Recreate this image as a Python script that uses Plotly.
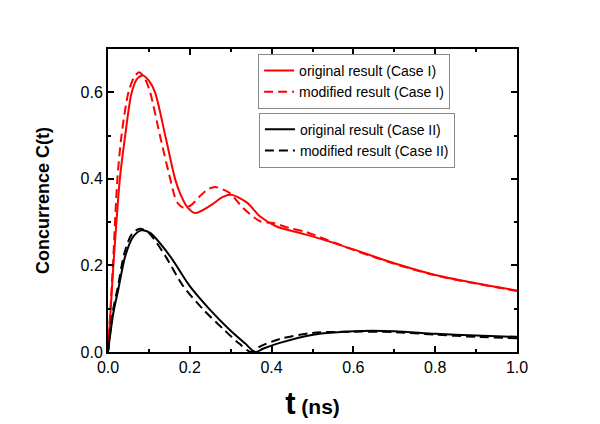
import plotly.graph_objects as go

# Case I (red)
t_orig_I = [0, 0.013, 0.029, 0.042, 0.058, 0.072, 0.085, 0.10, 0.115, 0.14, 0.164, 0.176, 0.193,
            0.213, 0.25, 0.28, 0.302, 0.34, 0.372, 0.412, 0.469, 0.518, 0.6, 0.7, 0.8, 0.9, 1.0]
c_orig_I = [0, 0.198, 0.40, 0.50, 0.60, 0.632, 0.639, 0.627, 0.60, 0.50, 0.40, 0.367, 0.336,
            0.321, 0.338, 0.358, 0.363, 0.345, 0.313, 0.29, 0.275, 0.262, 0.237, 0.205, 0.178, 0.159, 0.142]

t_mod_I = [0, 0.012, 0.023, 0.033, 0.05, 0.064, 0.076, 0.09, 0.103, 0.127, 0.152, 0.163, 0.172, 0.185,
           0.204, 0.228, 0.245, 0.262, 0.298, 0.33, 0.372, 0.404, 0.445, 0.478, 0.503, 0.6, 0.7, 0.8, 0.9, 1.0]
c_mod_I = [0, 0.20, 0.40, 0.50, 0.60, 0.635, 0.646, 0.632, 0.60, 0.50, 0.40, 0.36, 0.342, 0.333,
           0.34, 0.363, 0.376, 0.381, 0.367, 0.333, 0.302, 0.298, 0.286, 0.279, 0.271, 0.236, 0.204, 0.177, 0.158, 0.141]

# Case II (black)
t_orig_II = [0, 0.013, 0.025, 0.042, 0.062, 0.082, 0.103, 0.152, 0.2, 0.249, 0.298, 0.335, 0.36,
             0.38, 0.42, 0.502, 0.6, 0.7, 0.8, 0.9, 1.0]
c_orig_II = [0, 0.09, 0.144, 0.221, 0.267, 0.281, 0.275, 0.221, 0.152, 0.098, 0.051, 0.02, 0.0,
             0.008, 0.021, 0.040, 0.048, 0.048, 0.042, 0.038, 0.035]

t_mod_II = [0, 0.012, 0.024, 0.04, 0.058, 0.078, 0.10, 0.14, 0.184, 0.233, 0.284, 0.32, 0.35,
            0.37, 0.42, 0.5, 0.6, 0.7, 0.8, 0.9, 1.0]
c_mod_II = [0, 0.095, 0.15, 0.228, 0.272, 0.285, 0.275, 0.222, 0.152, 0.098, 0.051, 0.02, 0.0,
            0.012, 0.03, 0.044, 0.047, 0.046, 0.040, 0.035, 0.032]

x_ticks = [0.0, 0.2, 0.4, 0.6, 0.8, 1.0]
y_ticks = [0.0, 0.2, 0.4, 0.6]

FONT = "Arial, Liberation Sans, sans-serif"

fig = go.Figure()
dash = "9px,5px"
fig.add_trace(go.Scatter(x=t_orig_I, y=c_orig_I, mode="lines", name="original result (Case I)",
                         line=dict(color="#ff0000", width=2, shape="spline", smoothing=0.8), legend="legend"))
fig.add_trace(go.Scatter(x=t_mod_I, y=c_mod_I, mode="lines", name="modified result (Case I)",
                         line=dict(color="#ff0000", width=2, dash=dash, shape="spline", smoothing=0.8), legend="legend"))
fig.add_trace(go.Scatter(x=t_orig_II, y=c_orig_II, mode="lines", name="original result (Case II)",
                         line=dict(color="#000000", width=2, shape="spline", smoothing=0.8), legend="legend2"))
fig.add_trace(go.Scatter(x=t_mod_II, y=c_mod_II, mode="lines", name="modified result (Case II)",
                         line=dict(color="#000000", width=2, dash=dash, shape="spline", smoothing=0.8), legend="legend2"))

axis_common = dict(showline=True, linecolor="black", linewidth=2, mirror="ticks", ticks="inside",
                   ticklen=6, tickwidth=1.5, tickcolor="black", showgrid=False, zeroline=False,
                   tickfont=dict(family=FONT, size=16, color="black"),
                   minor=dict(ticks="inside", ticklen=3, tickwidth=1.5, tickcolor="black", dtick=0.1))

fig.update_xaxes(range=[0, 1.0], tickvals=x_ticks, ticktext=[f"{v:.1f}" for v in x_ticks],
                 title=dict(text="<b><span style='font-size:31px'>t</span> (ns)</b>",
                            font=dict(family=FONT, size=21, color="black"), standoff=24),
                 **axis_common)
fig.update_yaxes(range=[0, 0.7], tickvals=y_ticks, ticktext=[f"{v:.1f}" for v in y_ticks],
                 title=dict(text="<b>Concurrence C(t)</b>",
                            font=dict(family=FONT, size=18, color="black"), standoff=26),
                 **axis_common)

legend_common = dict(bgcolor="white", bordercolor="#888888", borderwidth=1,
                     font=dict(family=FONT, size=14, color="black"),
                     xanchor="left", yanchor="top", tracegroupgap=0, itemwidth=30)
fig.update_layout(
    width=592, height=416,
    margin=dict(l=100, r=83, t=41, b=72, autoexpand=False),
    paper_bgcolor="white", plot_bgcolor="white",
    legend=dict(x=0.367, y=0.984, **legend_common),
    legend2=dict(x=0.369, y=0.79, **legend_common),
    showlegend=True,
)

fig.write_html("out.html")
